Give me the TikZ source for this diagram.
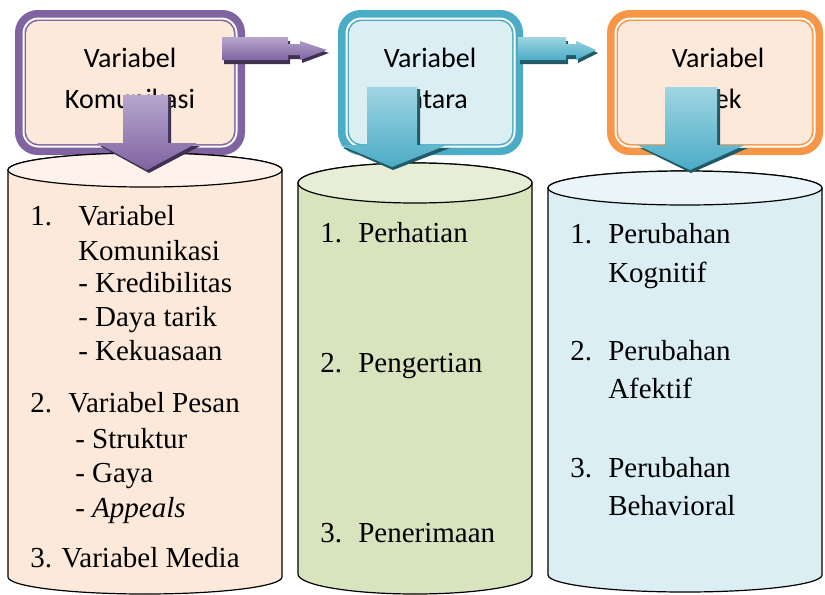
\documentclass[tikz,border=0pt]{standalone}
\usepackage{fontspec}
\setmainfont{Liberation Serif}
\newfontfamily\boxfont{Carlito}
\definecolor{pur}{HTML}{8064A2}
\definecolor{purlight}{HTML}{B7A6CD}
\definecolor{purdark}{HTML}{403152}
\definecolor{teal}{HTML}{4BACC6}
\definecolor{teallight}{HTML}{A0D5E3}
\definecolor{tealdark}{HTML}{215967}
\definecolor{orng}{HTML}{F79646}
\definecolor{peach}{HTML}{FDE9D9}
\definecolor{peachtop}{HTML}{FEF2EB}
\definecolor{skyfill}{HTML}{DAEEF3}
\definecolor{green}{HTML}{D7E4BD}
\definecolor{greentop}{HTML}{E6EED6}
\definecolor{blue}{HTML}{DBEEF4}
\definecolor{bluetop}{HTML}{EAF5F9}
\tikzset{
  boxtext/.style={font=\boxfont\fontsize{21}{25}\selectfont, anchor=base, inner sep=0pt},
  cyltext/.style={font=\fontsize{21.75}{26}\selectfont, anchor=base west, inner sep=0pt},
  cylline/.style={line width=0.9pt, draw=black}
}
\newcommand\frameBox[6]{%
  \fill[#5,rounded corners=17pt] (#1,#2) rectangle (#3,#4);
  \fill[white,rounded corners=12pt] (#1+7.5,#2+7.5) rectangle (#3-7.5,#4-7.5);
  \fill[#5,rounded corners=10.5pt] (#1+9.5,#2+9.5) rectangle (#3-9.5,#4-9.5);
  \fill[#6,rounded corners=9.5pt] (#1+11,#2+11) rectangle (#3-11,#4-11);
}
\newcommand\cylShape[7]{%
  \filldraw[cylline, fill=#6] (#1-#2,#3) -- (#1-#2,#4)
    arc[start angle=180,end angle=0,x radius=#2,y radius=#5] -- (#1+#2,#3)
    arc[start angle=0,end angle=-180,x radius=#2,y radius=#5] -- cycle;
  \filldraw[cylline, fill=#7] (#1,#3) ellipse[x radius=#2,y radius=#5];
}
% shaft x1 x2, top, head y, wing x1 x2, tip x, tip y, light, mid, dark
\newcommand\downArrow[8]{%
  \fill[#8!80!black] (#1+3,#3+2) -- (#2+3,#3+2) -- (#2+3,#4+2) -- (#6+3,#4+2) -- (#7+2,#8+0) -- cycle;
}
\begin{document}
\begin{tikzpicture}[x=0.75pt,y=-0.75pt]
\useasboundingbox (0,0) rectangle (825,594);
% ---- top boxes
\frameBox{15}{10}{245}{155}{pur}{peach}
\frameBox{338}{10}{523}{155}{teal}{skyfill}
\frameBox{607}{10}{823}{155}{orng}{peach}
\node[boxtext] (b1a) at (130,67) {Variabel};
\node[boxtext] (b1b) at (130,108) {Komunikasi};
\node[boxtext] (b2a) at (430,67) {Variabel};
\node[boxtext] (b2b) at (430,108) {Antara};
\node[boxtext] (b3a) at (718,67) {Variabel};
\node[boxtext] (b3b) at (718,108) {Efek};
% ---- cylinders
\cylShape{145}{137}{170}{577}{17}{peach}{peachtop}
\cylShape{415}{117}{183}{574}{20}{green}{greentop}
\cylShape{685}{137}{188}{575}{17}{blue}{bluetop}
% ---- horizontal arrows
\fill[purdark] (224,41) -- (290,41) -- (290,47) -- (302,47) -- (302,44) -- (329,53) -- (302,63) -- (302,59) -- (290,59) -- (290,64) -- (224,64) -- cycle;
\shade[top color=purlight, bottom color=pur] (222,37) -- (288,37) -- (288,44) -- (300,44) -- (300,41) -- (327,50) -- (300,60) -- (300,55) -- (288,55) -- (288,60) -- (222,60) -- cycle;
\fill[tealdark] (520,41) -- (568,41) -- (568,47) -- (578,47) -- (578,44) -- (598,53) -- (578,63) -- (578,59) -- (568,59) -- (568,64) -- (520,64) -- cycle;
\shade[top color=teallight, bottom color=teal] (518,37) -- (566,37) -- (566,44) -- (576,44) -- (576,41) -- (596,50) -- (576,60) -- (576,55) -- (566,55) -- (566,60) -- (518,60) -- cycle;
% ---- down arrows
\fill[purdark] (126,97) -- (171,97) -- (171,146) -- (200,146) -- (149,173) -- (100,146) -- (126,146) -- cycle;
\shade[top color=purlight, bottom color=pur] (123,95) -- (168,95) -- (168,143) -- (197,143) -- (147,170) -- (97,143) -- (123,143) -- cycle;
\fill[tealdark] (370,89) -- (420,89) -- (420,148) -- (450,148) -- (393,170) -- (343,148) -- (370,148) -- cycle;
\shade[top color=teallight, bottom color=teal] (367,87) -- (417,87) -- (417,145) -- (447,145) -- (392,167) -- (340,145) -- (367,145) -- cycle;
\fill[tealdark] (668,89) -- (720,89) -- (720,148) -- (748,148) -- (691,173) -- (640,148) -- (668,148) -- cycle;
\shade[top color=teallight, bottom color=teal] (665,87) -- (717,87) -- (717,145) -- (745,145) -- (690,170) -- (637,145) -- (665,145) -- cycle;
% ---- cylinder 1 text
\node[cyltext] (c1n1) at (30,225) {1.};
\node[cyltext] (c1a) at (78,225) {Variabel};
\node[cyltext] (c1b) at (78,260) {Komunikasi};
\node[cyltext] (c1c) at (78,292) {- Kredibilitas};
\node[cyltext] (c1d) at (78,326) {- Daya tarik};
\node[cyltext] (c1e) at (78,360) {- Kekuasaan};
\node[cyltext] (c1n2) at (30,412) {2.};
\node[cyltext] (c1f) at (68,412) {Variabel Pesan};
\node[cyltext] (c1g) at (75,448) {- Struktur};
\node[cyltext] (c1h) at (75,482) {- Gaya};
\node[cyltext] (c1i) at (75,517) {- \textit{Appeals}};
\node[cyltext] (c1j) at (30,567) {3. Variabel Media};
% ---- cylinder 2 text
\node[cyltext] (c2n1) at (320,242) {1.};
\node[cyltext] (c2a) at (358,242) {Perhatian};
\node[cyltext] (c2n2) at (320,372) {2.};
\node[cyltext] (c2b) at (358,372) {Pengertian};
\node[cyltext] (c2n3) at (320,542) {3.};
\node[cyltext] (c2c) at (358,542) {Penerimaan};
% ---- cylinder 3 text
\node[cyltext] (c3n1) at (570,243) {1.};
\node[cyltext] (c3a) at (608,243) {Perubahan};
\node[cyltext] (c3b) at (608,282) {Kognitif};
\node[cyltext] (c3n2) at (570,360) {2.};
\node[cyltext] (c3c) at (608,360) {Perubahan};
\node[cyltext] (c3d) at (608,398) {Afektif};
\node[cyltext] (c3n3) at (570,477) {3.};
\node[cyltext] (c3e) at (608,477) {Perubahan};
\node[cyltext] (c3f) at (608,515) {Behavioral};
\end{tikzpicture}
\end{document}
